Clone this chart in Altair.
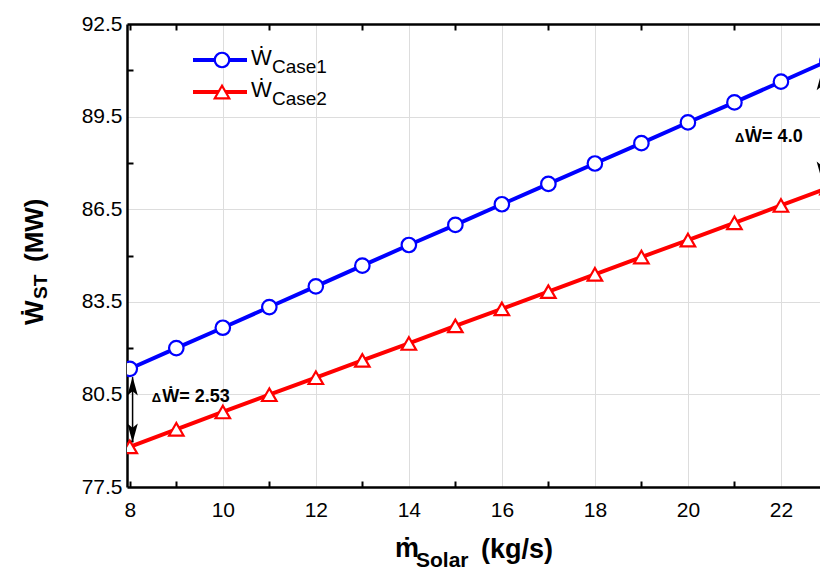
import altair as alt
import pandas as pd

# ---- data ----
x_vals = [8, 9, 10, 11, 12, 13, 14, 15, 16, 17, 18, 19, 20, 21, 22, 23]
case1 = [81.33, 82.00, 82.66, 83.33, 84.00, 84.67, 85.34, 85.99, 86.66, 87.32,
         87.98, 88.64, 89.31, 89.96, 90.63, 91.30]
case2 = [78.80, 79.37, 79.93, 80.49, 81.04, 81.60, 82.15, 82.72, 83.27, 83.83,
         84.39, 84.95, 85.50, 86.06, 86.62, 87.18]
series_names = ["Case1", "Case2"]
series_colors = ["#0000FF", "#FF0000"]
series_shapes = ["circle", "triangle-up"]

x_tick_values = list(range(8, 23))
y_tick_values = [77.5 + 1.5 * i for i in range(11)]
x_domain = [7.94, 22.84]
y_domain = [77.5, 92.5]

# annotation values
delta_labels = ["Ẇ= 2.53", "Ẇ= 4.0"]
delta_x = [8.47, 21.01]
delta_text_x = [8.70, 21.23]
delta_y = [80.26, 88.68]
arrow_x = [8.06, 22.88]
arrow_top = [81.06, 90.95]
arrow_bot = [78.96, 87.45]

FONT = "Liberation Sans"

df = pd.DataFrame({
    "x": x_vals * 2,
    "y": case1 + case2,
    "series": [series_names[0]] * len(x_vals) + [series_names[1]] * len(x_vals),
})

xscale = alt.Scale(domain=x_domain, nice=False, zero=False)
yscale = alt.Scale(domain=y_domain, nice=False, zero=False)
cscale = alt.Scale(domain=series_names, range=series_colors)
sscale = alt.Scale(domain=series_names, range=series_shapes)

x_axis_bottom = alt.Axis(
    values=x_tick_values, title=None, orient="bottom",
    labelExpr="datum.value % 2 == 0 ? datum.label : ''",
    labelFont=FONT, labelFontSize=21, labelColor="black", labelPadding=18,
    domainColor="black", domainWidth=2.5,
    tickColor="black", tickWidth=2, tickSize={"expr": "-6"},
    tickOpacity={"condition": {"test": "datum.value % 2 == 1 || datum.value == 8", "value": 1}, "value": 0},
    grid=True, gridColor="#dddddd", gridWidth=1,
    gridOpacity={"condition": {"test": "datum.value % 2 == 0 && datum.value > 8", "value": 1}, "value": 0},
)
x_axis_top = alt.Axis(
    values=[8] + list(range(9, 23, 2)), title=None, orient="top", labels=False,
    domainColor="black", domainWidth=2.5,
    tickColor="black", tickWidth=2, tickSize={"expr": "-6"}, grid=False,
)
y_axis = alt.Axis(
    values=y_tick_values, title=None, format=".1f", orient="left",
    labelExpr="(datum.value - 77.5) % 3 == 0 ? datum.label : ''",
    labelFont=FONT, labelFontSize=21, labelColor="black", labelPadding=11,
    domainColor="black", domainWidth=2.5,
    tickColor="black", tickWidth=2, tickSize={"expr": "-6"},
    tickOpacity={"condition": {"test": "(datum.value - 77.5) % 3 != 0", "value": 1}, "value": 0},
    grid=True, gridColor="#dddddd", gridWidth=1,
    gridOpacity={"condition": {"test": "(datum.value - 77.5) % 3 == 0 && datum.value > 77.5 && datum.value < 92.5", "value": 1}, "value": 0},
)

base = alt.Chart(df)
lines = base.mark_line(strokeWidth=4, clip=True).encode(
    x=alt.X("x:Q", scale=xscale, axis=x_axis_bottom),
    y=alt.Y("y:Q", scale=yscale, axis=y_axis),
    color=alt.Color("series:N", scale=cscale, legend=None),
)
points = base.mark_point(filled=False, fill="white", fillOpacity=1, strokeWidth=2.2, size=210, opacity=1, clip=True).encode(
    x=alt.X("x:Q", scale=xscale, axis=x_axis_top),
    y=alt.Y("y:Q", scale=yscale, axis=None),
    color=alt.Color("series:N", scale=cscale, legend=None),
    shape=alt.Shape("series:N", scale=sscale, legend=None),
)

# arrows
arrow_df = pd.DataFrame({"x": arrow_x, "top": arrow_top, "bot": arrow_bot})
shafts = alt.Chart(arrow_df).mark_rule(color="black", strokeWidth=1.5, clip=True).encode(
    x=alt.X("x:Q", scale=xscale, axis=None),
    y=alt.Y("top:Q", scale=yscale, axis=None),
    y2="bot:Q",
)
up_path = "M0,-1L0.55,1L0,0.55L-0.55,1Z"
down_path = "M0,1L0.55,-1L0,-0.55L-0.55,-1Z"
heads_up = alt.Chart(arrow_df).mark_point(shape=up_path, filled=True, color="black", size=360, opacity=1, clip=True).encode(
    x=alt.X("x:Q", scale=xscale, axis=None),
    y=alt.Y("top:Q", scale=yscale, axis=None),
    yOffset=alt.value(9),
)
heads_down = alt.Chart(arrow_df).mark_point(shape=down_path, filled=True, color="black", size=360, opacity=1, clip=True).encode(
    x=alt.X("x:Q", scale=xscale, axis=None),
    y=alt.Y("bot:Q", scale=yscale, axis=None),
    yOffset=alt.value(-9),
)

ann_df = pd.DataFrame({"dx": delta_x, "tx": delta_text_x, "y": delta_y, "label": delta_labels})
delta_sym = alt.Chart(ann_df).mark_text(text="Δ", font=FONT, fontSize=13, fontWeight="bold", align="left", baseline="alphabetic", color="black").encode(
    x=alt.X("dx:Q", scale=xscale, axis=None),
    y=alt.Y("y:Q", scale=yscale, axis=None),
)
delta_txt = alt.Chart(ann_df).mark_text(font=FONT, fontSize=18, fontWeight="bold", align="left", baseline="alphabetic", color="black").encode(
    x=alt.X("tx:Q", scale=xscale, axis=None),
    y=alt.Y("y:Q", scale=yscale, axis=None),
    text="label:N",
)

one = alt.Data(values=[{}])


def txt(s, px, py, size, weight="normal", angle=0):
    return alt.Chart(one).mark_text(
        text=s, font=FONT, fontSize=size, fontWeight=weight, align="left",
        baseline="alphabetic", color="black", angle=angle,
    ).encode(x=alt.value(px), y=alt.value(py))


# legend (manual)
legend_layers = []
for i, (name, col, shp) in enumerate(zip(series_names, series_colors, series_shapes)):
    ly = 36 + 32 * i
    legend_layers.append(
        alt.Chart(one).mark_rule(color=col, strokeWidth=4).encode(
            x=alt.value(66), x2=alt.value(120), y=alt.value(ly))
    )
    legend_layers.append(
        alt.Chart(one).mark_point(shape=shp, filled=False, fill="white", fillOpacity=1, color=col, strokeWidth=2.2, size=210, opacity=1).encode(
            x=alt.value(95), y=alt.value(ly))
    )
    legend_layers.append(txt("Ẇ", 124, ly + 5, 22))
    legend_layers.append(txt(name, 145, ly + 13, 19))

# axis titles (manual, with subscripts)
titles = [
    txt("ṁ", 268, 533, 27, "bold"),
    txt("Solar", 289, 543, 21, "bold"),
    txt("(kg/s)", 354, 534, 27, "bold"),
    txt("Ẇ", -84, 301, 26, "bold", 270),
    txt("ST", -80, 275, 19, "bold", 270),
    txt("(MW)", -84, 238, 26, "bold", 270),
]

chart = alt.layer(
    lines, points, shafts, heads_up, heads_down, delta_sym, delta_txt,
    *legend_layers, *titles,
).resolve_axis(x="independent", y="independent").properties(
    width=693, height=463,
    padding={"left": 127, "top": 24, "right": 0, "bottom": 84},
    autosize=alt.AutoSizeParams(type="none"),
    background="white",
).configure_view(stroke=None)

chart.save("out.html", embed_options={"renderer": "svg", "actions": False})
